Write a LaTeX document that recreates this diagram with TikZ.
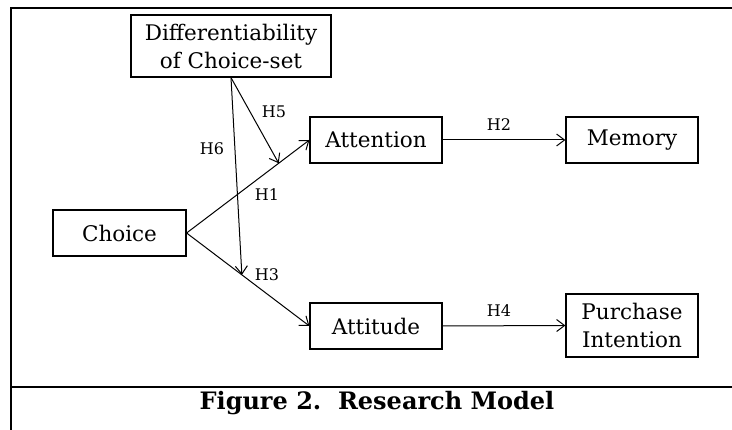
\documentclass[tikz,border=0pt]{standalone}
\usepackage{fontspec}
\setmainfont{DejaVu Serif}
\usetikzlibrary{arrows.meta,calc}
\tikzset{
  box/.style={draw, line width=1.2pt, inner sep=0pt, align=center,
    font=\fontsize{21.5}{28}\selectfont},
  conn/.style={line width=1pt, -{Straight Barb[length=8pt,width=12pt,line width=1pt]}},
  plain/.style={line width=1pt},
  hlab/.style={font=\fontsize{16}{18}\selectfont, inner sep=0pt},
  frame/.style={line width=2.5pt}
}
\begin{document}
\begin{tikzpicture}[x=1pt,y=-1pt]
\useasboundingbox (0,0) rectangle (732,430);
\draw[frame] (732,8) -- (11,8) -- (11,430);
\draw[frame] (11,387) -- (732,387);
\node[box, minimum width=200pt, minimum height=62pt] (diff) at (231,46) {Differentiability\\of Choice-set};
\node[box, minimum width=132pt, minimum height=46pt] (att) at (376,140) {Attention};
\node[box, minimum width=132pt, minimum height=46pt] (mem) at (632,140) {Memory};
\node[box, minimum width=133pt, minimum height=46pt] (cho) at (119.5,233) {Choice};
\node[box, minimum width=132pt, minimum height=46pt] (atd) at (376,326) {Attitude};
\node[box, minimum width=132pt, minimum height=63pt] (pur) at (632,325.5) {Purchase\\Intention};
\coordinate (m1) at ($(cho.east)!0.75!(att.west)$);
\coordinate (m3) at ($(cho.east)!0.45!(atd.west)$);
\draw[conn] (cho.east) -- (att.west);
\draw[conn] (cho.east) -- (atd.west);
\draw[conn] (att.east) -- (mem.west);
\draw[conn] (atd.east) -- (pur.west);
\draw[conn] (diff.south) -- (m1);
\draw[conn] (diff.south) -- (m3);
\node[hlab] (h5) at (274,112) {H5};
\node[hlab] (h6) at (212,149) {H6};
\node[hlab] (h1) at (267,195) {H1};
\node[hlab] (h3) at (267,275) {H3};
\node[hlab] (h2) at (499,125) {H2};
\node[hlab] (h4) at (499,311) {H4};
\node[font=\bfseries\fontsize{24}{28}\selectfont, inner sep=0pt] (cap) at (377,403) {Figure 2.\ \ Research Model};
\end{tikzpicture}
\end{document}
